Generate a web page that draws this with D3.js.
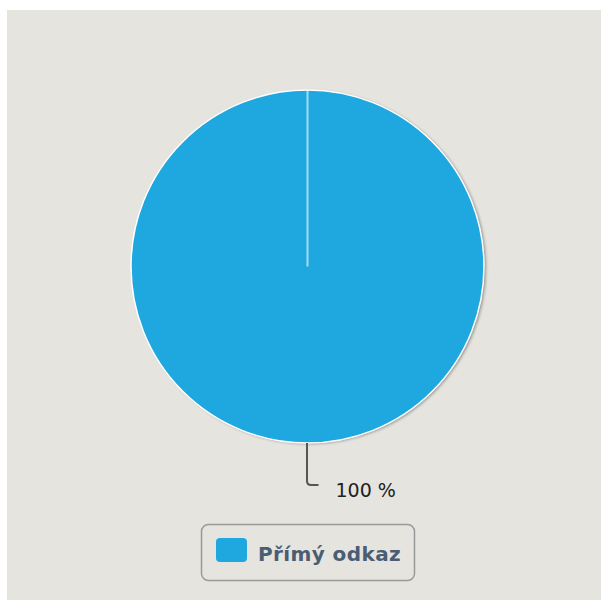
<!DOCTYPE html>
<html><head><meta charset="utf-8">
<script src="https://cdn.jsdelivr.net/npm/d3@7"></script>
<style>html,body{margin:0;padding:0;background:#fff;}svg{display:block;}</style>
</head><body>
<svg id="c" width="601" height="600"></svg>
<script>
const categories = ["Přímý odkaz"];
const values = [100];
const colors = ["#1fa7e0"];

const svg = d3.select("#c");
const defs = svg.append("defs");
const f = defs.append("filter").attr("id","sh").attr("x","-20%").attr("y","-20%").attr("width","140%").attr("height","140%");
f.append("feDropShadow").attr("dx",2).attr("dy",1).attr("stdDeviation",1.5).attr("flood-color","#000").attr("flood-opacity",0.35);

svg.append("rect").attr("x",7).attr("y",10).attr("width",594).attr("height",590).attr("fill","#e5e4df");

const cx = 307.5, cy = 266.5, r = 176.5;
const total = d3.sum(values);
const pie = d3.pie().sort(null).value(d => d)(values);
const arc = d3.arc().innerRadius(0).outerRadius(r);
const g = svg.append("g").attr("transform", `translate(${cx},${cy})`);
g.append("circle").attr("r", r).attr("fill", colors[0]).attr("filter","url(#sh)");
g.selectAll("path.s").data(pie).join("path").attr("class","s")
  .attr("d", arc).attr("fill", (d,i) => colors[i]);
pie.forEach(d => {
  g.append("line").attr("x1",0).attr("y1",0)
    .attr("x2", r*Math.sin(d.startAngle)).attr("y2", -r*Math.cos(d.startAngle))
    .attr("stroke","#fff").attr("stroke-opacity",0.6).attr("stroke-width",2);
});
g.append("circle").attr("r", r).attr("fill","none").attr("stroke","#fff").attr("stroke-width",1.5);

pie.forEach((d,i) => {
  const mid = (d.startAngle + d.endAngle)/2;
  const x0 = r*Math.sin(mid), y0 = -r*Math.cos(mid);
  const p = d3.path();
  p.moveTo(x0-0.5, y0);
  p.lineTo(x0-0.5, y0+38);
  p.quadraticCurveTo(x0-0.5, y0+42, x0+3.5, y0+42);
  p.lineTo(x0+11, y0+42);
  g.append("path").attr("d", p.toString()).attr("fill","none").attr("stroke","#555").attr("stroke-width",2);
  g.append("text").attr("x", x0+28).attr("y", y0+54)
    .attr("font-family","'DejaVu Sans', sans-serif").attr("font-size",19).attr("fill","#222")
    .text(Math.round(values[i]/total*100) + " %");
});

const lg = svg.append("g");
lg.append("rect").attr("x",201.5).attr("y",524.5).attr("width",213).attr("height",56).attr("rx",7)
  .attr("fill","none").attr("stroke","#999").attr("stroke-width",1.5);
categories.forEach((c,i) => {
  lg.append("rect").attr("x",216).attr("y",538).attr("width",31).attr("height",24).attr("rx",4).attr("fill",colors[i]);
  lg.append("text").attr("x",258).attr("y",560.5)
    .attr("font-family","'DejaVu Sans', sans-serif").attr("font-weight","bold").attr("font-size",20).attr("letter-spacing",0.4).attr("fill","#4b5d73")
    .text(c);
});
</script>
</body></html>
